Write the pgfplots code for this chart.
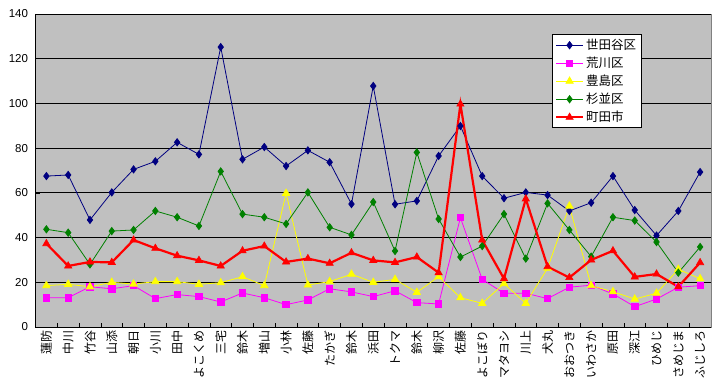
\documentclass[border=0pt]{standalone}
\usepackage{fontspec}
\setmainfont{Liberation Sans}
\newfontfamily\jp{Noto Sans CJK JP}
\usepackage{pgfplots}
\pgfplotsset{compat=1.18}
\definecolor{bggray}{HTML}{C0C0C0}
\definecolor{frgray}{HTML}{808080}
\definecolor{navy}{HTML}{000080}
\definecolor{mag}{HTML}{FF00FF}
\definecolor{yel}{HTML}{FFFF00}
\definecolor{grn}{HTML}{008000}
\definecolor{rd}{HTML}{FF0000}
\begin{document}
\begin{tikzpicture}
\useasboundingbox (-35.5pt,-64pt) rectangle (681.5pt,327pt);
\begin{axis}[
  at={(0,0)}, anchor=south west,
  scale only axis, width=675.5pt, height=313pt,
  xmin=-0.5, xmax=30.5, ymin=0, ymax=140,
  axis x line*=bottom, axis y line*=left,
  axis line style={black, line width=0.8pt, -},
  axis background/.style={fill=bggray, draw=frgray, line width=0.8pt},
  ytick={0,20,...,140},
  xtick={0,...,30},
  xticklabels={蓮防,中川,竹谷,山添,朝日,小川,田中,よこくめ,三宅,鈴木,増山,小林,佐藤,たかぎ,鈴木,浜田,トクマ,鈴木,柳沢,佐藤,よこぼり,マタヨシ,川上,犬丸,おおつき,いわさか,原田,深江,ひめじ,さめじま,ふじしろ},
  minor xtick={0.5,1.5,...,29.5},
  major x tick style={draw=none},
  minor x tick style={black, line width=0.6pt},
  ytick style={black, line width=0.6pt},
  tick align=inside, major tick length=4.5pt, minor tick length=4.5pt,
  ymajorgrids, major grid style={black, line width=0.8pt},
  /pgf/number format/assume math mode=true,
  yticklabel style={font=\fontsize{11.5}{13}\selectfont, xshift=-4pt},
  xticklabel style={rotate=90, anchor=east, font=\jp\fontsize{12}{14}\selectfont, yshift=0pt},
  legend style={at={(0.764,0.935)}, anchor=north west, draw=black, fill=white,
    line width=0.8pt, font=\jp\fontsize{12.5}{13}\selectfont, inner xsep=3pt, inner ysep=2.5pt, row sep=2pt},
  legend cell align=left,
  legend image code/.code={\draw[#1, mark repeat=2, mark phase=2] plot coordinates {(0pt,0pt) (13.5pt,0pt) (27pt,0pt)};},
]
\addplot[navy, line width=0.8pt, mark=diamond*, mark size=3.6pt, mark options={solid, fill=navy, draw=navy}] coordinates {
(0,67.5)(1,68.0)(2,47.9)(3,60.2)(4,70.5)(5,74.1)(6,82.6)(7,77.2)(8,125.2)(9,75.0)(10,80.5)(11,72.0)(12,79.0)(13,73.7)(14,55.0)(15,107.8)(16,54.9)(17,56.4)(18,76.5)(19,89.9)(20,67.5)(21,57.6)(22,60.2)(23,59.0)(24,51.9)(25,55.6)(26,67.5)(27,52.3)(28,40.9)(29,51.9)(30,69.3)};
\addlegendentry{世田谷区}
\addplot[mag, line width=0.8pt, mark=square*, mark size=3.2pt, mark options={solid, fill=mag, draw=mag}] coordinates {
(0,13.1)(1,13.1)(2,18.0)(3,17.1)(4,18.5)(5,12.7)(6,14.5)(7,13.6)(8,11.2)(9,15.2)(10,13.1)(11,10.0)(12,12.1)(13,17.1)(14,15.7)(15,13.6)(16,16.2)(17,10.9)(18,10.3)(19,48.9)(20,21.3)(21,15.1)(22,15.1)(23,12.7)(24,17.8)(25,18.7)(26,14.8)(27,9.1)(28,12.5)(29,17.8)(30,18.5)};
\addlegendentry{荒川区}
\addplot[yel, line width=0.8pt, mark=triangle*, mark size=4.2pt, mark options={solid, fill=yel, draw=yel}] coordinates {
(0,18.5)(1,19.1)(2,18.0)(3,20.0)(4,19.2)(5,20.3)(6,20.3)(7,19.1)(8,19.8)(9,22.5)(10,18.5)(11,59.8)(12,18.8)(13,20.3)(14,23.6)(15,20.0)(16,21.3)(17,15.5)(18,22.5)(19,13.1)(20,10.6)(21,19.4)(22,10.6)(23,26.3)(24,54.1)(25,18.5)(26,15.8)(27,12.5)(28,15.1)(29,25.8)(30,21.6)};
\addlegendentry{豊島区}
\addplot[grn, line width=0.8pt, mark=diamond*, mark size=3.6pt, mark options={solid, fill=grn, draw=grn}] coordinates {
(0,43.7)(1,42.2)(2,28.0)(3,42.9)(4,43.4)(5,51.9)(6,49.1)(7,45.2)(8,69.6)(9,50.5)(10,49.1)(11,46.1)(12,60.2)(13,44.6)(14,41.2)(15,55.9)(16,34.0)(17,78.1)(18,48.3)(19,31.3)(20,36.2)(21,50.5)(22,30.6)(23,55.3)(24,43.4)(25,31.5)(26,49.1)(27,47.6)(28,38.0)(29,24.3)(30,35.8)};
\addlegendentry{杉並区}
\addplot[rd, line width=2.2pt, mark=triangle*, mark size=4.2pt, mark options={solid, line width=0.6pt, fill=rd, draw=rd}] coordinates {
(0,37.3)(1,27.3)(2,29.1)(3,28.9)(4,38.9)(5,35.2)(6,31.9)(7,29.8)(8,27.3)(9,34.1)(10,36.2)(11,29.1)(12,30.6)(13,28.5)(14,33.2)(15,29.8)(16,28.9)(17,31.3)(18,24.3)(19,99.7)(20,38.9)(21,21.6)(22,57.3)(23,27.0)(24,22.1)(25,30.0)(26,34.1)(27,22.4)(28,23.7)(29,18.0)(30,28.8)};
\addlegendentry{町田市}
\end{axis}
\end{tikzpicture}
\end{document}
